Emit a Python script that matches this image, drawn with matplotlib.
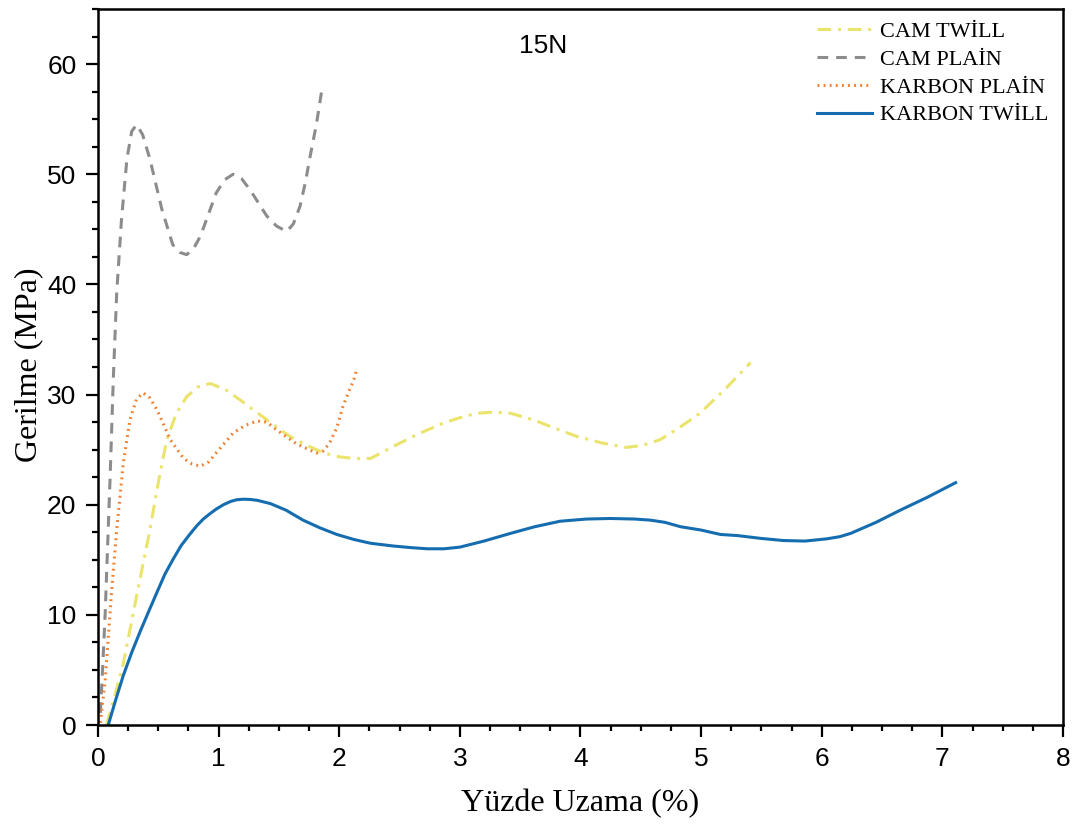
import numpy as np
import matplotlib.pyplot as plt

# KARBON TWİLL
kt_x = [0.085, 0.15, 0.21, 0.28, 0.35, 0.42, 0.487, 0.555, 0.625, 0.69, 0.76, 0.82, 0.873, 0.93,
        0.98, 1.04, 1.1, 1.15, 1.205, 1.26, 1.32, 1.43, 1.56, 1.70, 1.84,
        1.98, 2.12, 2.26, 2.45, 2.6, 2.73, 2.87, 3.0, 3.2, 3.42, 3.62, 3.83, 4.05, 4.25, 4.45,
        4.58, 4.7, 4.83, 5.0, 5.16, 5.3, 5.49, 5.68, 5.86, 6.04, 6.15, 6.24, 6.45, 6.65, 6.88, 7.11]
kt_y = [0, 2.4, 4.5, 6.6, 8.5, 10.3, 12.0, 13.7, 15.1, 16.3, 17.3, 18.1, 18.7, 19.2,
        19.6, 20.0, 20.3, 20.45, 20.5, 20.48, 20.4, 20.1, 19.5, 18.6, 17.9,
        17.3, 16.85, 16.5, 16.25, 16.1, 16.0, 16.0, 16.15, 16.7, 17.4, 18.0, 18.5, 18.7, 18.75, 18.7,
        18.6, 18.4, 18.0, 17.7, 17.3, 17.2, 16.95, 16.75, 16.7, 16.9, 17.1, 17.4, 18.4, 19.5, 20.7, 22.0]

# CAM TWİLL
ct_x = [0.07, 0.14, 0.21, 0.32, 0.43, 0.5, 0.57, 0.65, 0.735, 0.83, 0.93, 1.05, 1.18, 1.29, 1.40,
        1.59, 1.73, 1.87, 2.0, 2.12, 2.26, 2.45, 2.65, 2.86, 3.0, 3.14, 3.28, 3.42, 3.61, 3.8,
        3.97, 4.18, 4.38, 4.52, 4.66, 4.82, 4.99, 5.2, 5.41]
ct_y = [0, 2.7, 5.6, 11.7, 17.7, 22.0, 25.9, 28.3, 29.8, 30.7, 31.0, 30.5, 29.5, 28.6, 27.7,
        26.2, 25.4, 24.7, 24.35, 24.2, 24.2, 25.3, 26.4, 27.4, 27.9, 28.3, 28.4, 28.3, 27.7, 26.9,
        26.2, 25.6, 25.2, 25.4, 25.9, 27.0, 28.3, 30.5, 32.9]

# KARBON PLAİN
kp_x = [0.02, 0.06, 0.11, 0.155, 0.21, 0.265, 0.32, 0.375, 0.43, 0.49, 0.60, 0.71, 0.78, 0.85,
        0.92, 0.98, 1.05, 1.12, 1.22, 1.32, 1.40, 1.48, 1.65, 1.81, 1.87, 1.92, 1.98, 2.03, 2.08,
        2.12, 2.14]
kp_y = [0.2, 4.1, 11.7, 17.7, 23.8, 27.7, 29.6, 30.15, 29.7, 28.6, 25.9, 24.2, 23.7, 23.5,
        23.9, 24.7, 25.6, 26.5, 27.2, 27.6, 27.5, 26.8, 25.5, 24.7, 24.9, 25.6, 27.0, 28.9, 30.3,
        31.3, 32.1]

# CAM PLAİN
cp_x = [0.02, 0.04, 0.06, 0.08, 0.10, 0.127, 0.155, 0.195, 0.24, 0.28, 0.32, 0.37, 0.43, 0.53,
        0.62, 0.68, 0.735, 0.79, 0.85, 0.92, 0.98, 1.05, 1.12, 1.19, 1.26, 1.33, 1.40, 1.48,
        1.565, 1.62, 1.675, 1.72, 1.76, 1.81, 1.855]
cp_y = [1.1, 5.5, 10.2, 16.3, 22.3, 31.4, 39.2, 45.9, 51.4, 53.9, 54.5, 53.6, 51.4, 46.8,
        43.6, 42.9, 42.7, 43.2, 44.4, 46.5, 48.3, 49.5, 50.0, 49.6, 48.6, 47.4, 46.2, 45.3,
        44.8, 45.5, 47.1, 49.3, 51.7, 54.5, 57.6]

fig = plt.figure(figsize=(10.72, 8.27), dpi=100)
ax = fig.add_axes([0.0914, 0.1233, 0.9002, 0.8658])

lw = 2.2
ax.plot(ct_x, ct_y, color='#ebe46c', lw=lw, dashes=(4.5, 2.2, 1.0, 2.2), label='CAM TWİLL')
ax.plot(cp_x, cp_y, color='#8c8c8c', lw=lw, dashes=(3.5, 2.6), label='CAM PLAİN')
ax.plot(kp_x, kp_y, color='#f07f2e', lw=lw, dashes=(0.6, 1.4), label='KARBON PLAİN')
ax.plot(kt_x, kt_y, color='#156db0', lw=lw, label='KARBON TWİLL')

ax.set_xlim(0, 8)
ax.set_ylim(0, 65)
ax.set_xticks(np.arange(0, 9, 1))
ax.set_yticks(np.arange(0, 61, 10))
ax.set_xticks(np.arange(0, 8.01, 0.25), minor=True)
ax.set_yticks(np.arange(0, 65.1, 2.5), minor=True)
ax.tick_params(which='both', direction='out', width=1.6, top=False, right=False)
ax.tick_params(which='major', length=8.5, labelsize=19, pad=7)
ax.tick_params(which='minor', length=4.5)
for lab in ax.get_xticklabels() + ax.get_yticklabels():
    lab.set_fontfamily('Liberation Sans')
for s in ax.spines.values():
    s.set_linewidth(1.8)

ax.set_xlabel('Yüzde Uzama (%)', fontsize=23, fontfamily='Liberation Serif')
ax.set_ylabel('Gerilme (MPa)', fontsize=23, fontfamily='Liberation Serif')
ax.xaxis.set_label_coords(0.5, -0.089)
ax.yaxis.set_label_coords(-0.057, 0.503)

ax.text(3.69, 61.6, '15N', fontsize=19, fontfamily='Liberation Sans', ha='center', va='center')

ax.legend(loc='upper left', bbox_to_anchor=(0.745, 0.983), frameon=False,
          prop={'family': 'Liberation Serif', 'size': 16}, handlelength=2.5,
          handletextpad=0.35, labelspacing=0.33, borderpad=0, borderaxespad=0)

fig.savefig('out.png', dpi=100)
